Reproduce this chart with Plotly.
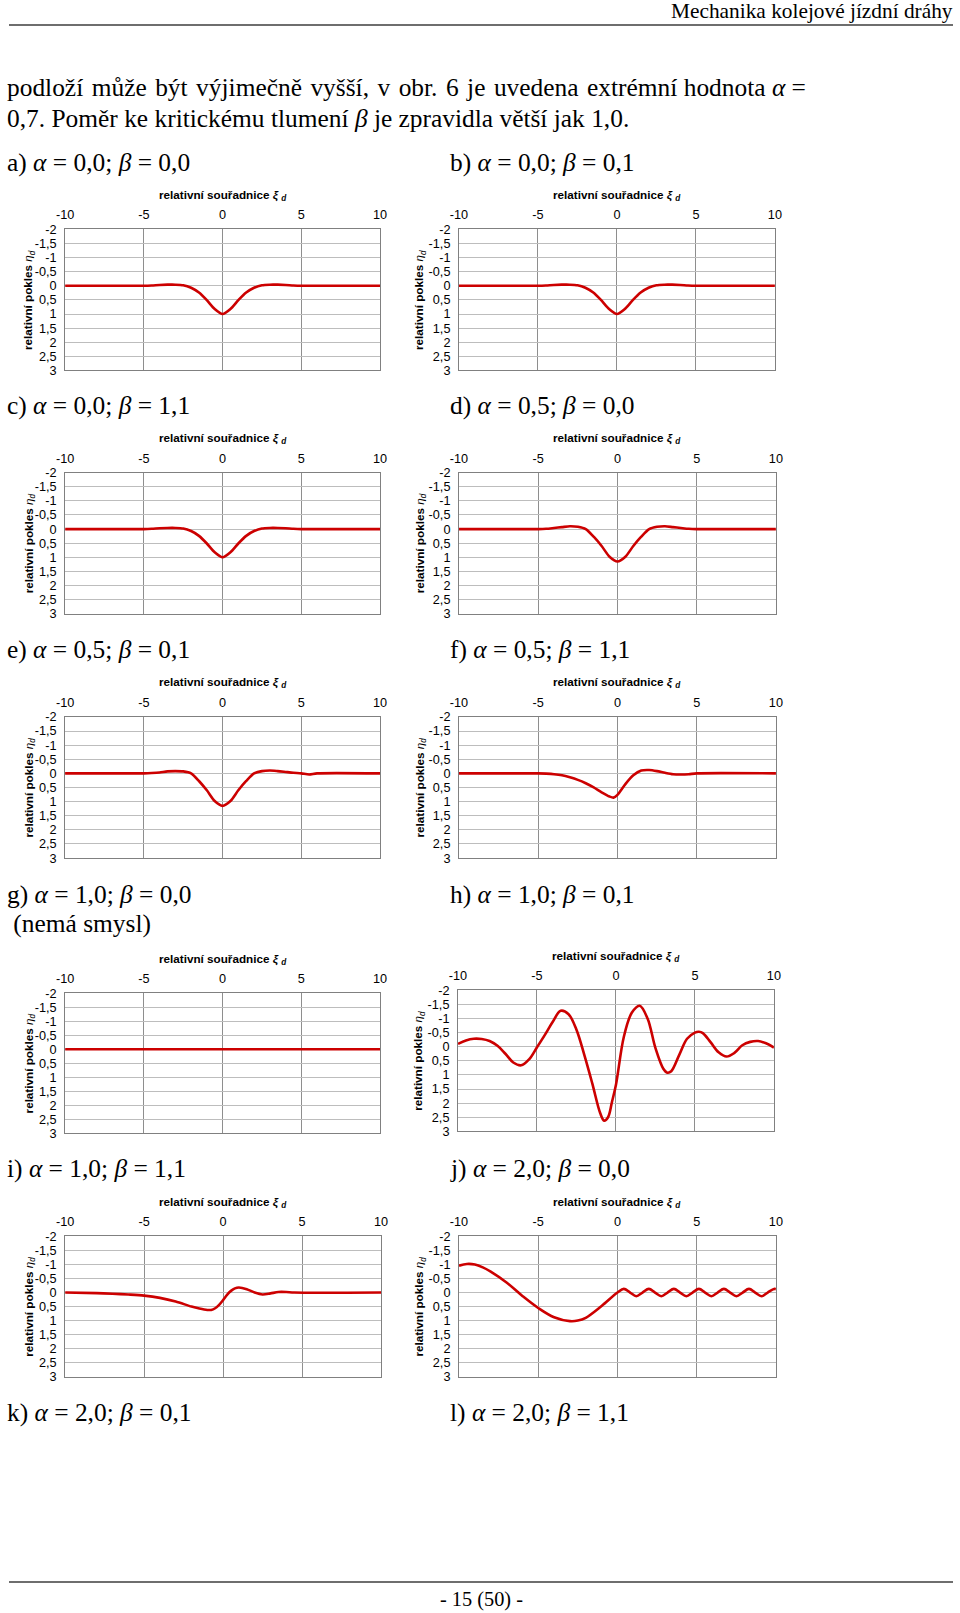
import plotly.graph_objects as go

# The photographed page area is slightly larger than the figure (page margin),
# so reference pixel positions are mapped back through these factors.
W, H = 960, 1613
MARGIN = 8
SX = W / (W + 2 * MARGIN)
SY = H / (H + 2 * MARGIN)
FS = 1 / SX

# ---------------- data ----------------
XTICKS = [-10, -5, 0, 5, 10]
XTICKTEXT = ["-10", "-5", "0", "5", "10"]
YTICKS = [-2, -1.5, -1, -0.5, 0, 0.5, 1, 1.5, 2, 2.5, 3]
YTICKTEXT = ["-2", "-1,5", "-1", "-0,5", "0", "0,5", "1", "1,5", "2", "2,5", "3"]

xi_a = [-10, -5, -4.5, -4, -3.5, -3, -2.5, -2, -1.5, -1, -0.5, 0, 0.5, 1, 1.5, 2, 2.5, 3, 3.5, 4, 4.5, 5, 10]
eta_a = [0, 0, -0.01, -0.03, -0.04, -0.04, -0.02, 0.07, 0.24, 0.51, 0.82, 1.0, 0.82, 0.51, 0.24, 0.07, -0.02, -0.04, -0.04, -0.03, -0.01, 0, 0]

xi_b = [-10, -5, -4.5, -4, -3.5, -3, -2.5, -2, -1.5, -1, -0.5, 0, 0.5, 1, 1.5, 2, 2.5, 3, 3.5, 4, 4.5, 5, 10]
eta_b = [0, 0, -0.01, -0.03, -0.04, -0.04, -0.02, 0.07, 0.24, 0.51, 0.82, 1.0, 0.82, 0.51, 0.24, 0.07, -0.02, -0.04, -0.04, -0.03, -0.01, 0, 0]

xi_c = [-10, -5, -4.5, -4, -3.5, -3, -2.5, -2, -1.5, -1, -0.5, 0, 0.5, 1, 1.5, 2, 2.5, 3, 3.5, 4, 4.5, 5, 10]
eta_c = [0, 0, -0.01, -0.03, -0.04, -0.04, -0.02, 0.07, 0.24, 0.51, 0.82, 1.0, 0.82, 0.51, 0.24, 0.07, -0.02, -0.04, -0.04, -0.03, -0.01, 0, 0]

xi_d = [-10, -5, -4.5, -4, -3.5, -3, -2.5, -2, -1.5, -1, -0.5, 0, 0.5, 1, 1.5, 2, 2.5, 3, 3.5, 4, 4.5, 5, 10]
eta_d = [0, 0, -0.01, -0.04, -0.07, -0.1, -0.08, 0.0, 0.27, 0.6, 0.98, 1.15, 0.98, 0.6, 0.27, 0.0, -0.08, -0.1, -0.07, -0.04, -0.01, 0, 0]

xi_e = [-10, -5, -4.5, -4, -3.5, -3, -2.5, -2, -1.5, -1, -0.5, 0, 0.5, 1, 1.5, 2, 2.5, 3, 3.5, 4, 4.5, 5, 5.5, 6, 10]
eta_e = [0, 0, -0.01, -0.03, -0.07, -0.08, -0.07, 0.0, 0.27, 0.6, 0.98, 1.15, 0.98, 0.6, 0.27, 0.0, -0.08, -0.1, -0.08, -0.05, -0.02, 0, 0.04, 0, 0]

xi_f = [-10, -5, -4.5, -4, -3.5, -3, -2.5, -2, -1.5, -1, -0.5, -0.25, 0, 0.5, 1, 1.5, 2, 2.5, 3, 3.5, 4, 4.5, 5, 10]
eta_f = [0, 0, 0.01, 0.03, 0.07, 0.14, 0.23, 0.35, 0.5, 0.67, 0.82, 0.86, 0.76, 0.38, 0.07, -0.1, -0.12, -0.08, -0.02, 0.03, 0.04, 0.03, 0, 0]

xi_g = [-10, 10]
eta_g = [0, 0]

xi_h = [-10, -9.5, -9, -8.5, -8, -7.5, -7, -6.5, -6, -5.5, -5, -4.5, -4, -3.5, -3, -2.5, -2, -1.5, -1,
        -0.75, -0.5, -0.25, 0, 0.5, 1, 1.5, 2, 2.5, 3, 3.25, 3.5, 4, 4.5, 5, 5.25, 5.5, 6, 6.5, 7, 7.5,
        8, 8.5, 9, 9.5, 10]
eta_h = [-0.1, -0.22, -0.28, -0.27, -0.2, -0.03, 0.25, 0.56, 0.66, 0.45, 0.02, -0.42, -0.88, -1.27, -1.15, -0.6, 0.3, 1.3, 2.35,
         2.62, 2.5, 1.95, 1.35, -0.35, -1.2, -1.45, -1.0, 0.05, 0.78, 0.92, 0.87, 0.3, -0.28, -0.5, -0.53, -0.48, -0.15, 0.2, 0.35, 0.22,
         -0.05, -0.17, -0.2, -0.12, 0.03]

xi_i = [-10, -8, -7, -6, -5, -4, -3, -2, -1.5, -1, -0.75, -0.5, -0.25, 0, 0.25, 0.5, 0.75, 1, 1.5, 2, 2.5, 3, 3.5, 4, 4.5, 10]
eta_i = [0, 0.02, 0.04, 0.07, 0.11, 0.19, 0.32, 0.5, 0.57, 0.62, 0.62, 0.56, 0.44, 0.27, 0.08, -0.06, -0.15, -0.18, -0.12, 0.0, 0.07, 0.03, -0.02, -0.02, 0, 0]

xi_j = [-10, -9.5, -9, -8.5, -8, -7, -6, -5, -4, -3, -2.5, -2, -1, 0,
        0.4, 0.8, 1.19, 1.58, 1.98, 2.37, 2.77, 3.16, 3.56, 3.95, 4.35, 4.74, 5.14, 5.53, 5.93,
        6.32, 6.72, 7.11, 7.51, 7.9, 8.3, 8.69, 9.09, 9.48, 9.88, 10]
eta_j = [-0.96, -1.02, -1.0, -0.9, -0.75, -0.36, 0.12, 0.55, 0.88, 1.02, 1.0, 0.9, 0.48, 0.0,
         -0.13, 0, 0.13, 0, -0.13, 0, 0.13, 0, -0.13, 0, 0.13, 0, -0.13, 0, 0.13,
         0, -0.13, 0, 0.13, 0, -0.13, 0, 0.13, 0, -0.13, -0.12]

SERIES = [(xi_a, eta_a), (xi_b, eta_b), (xi_c, eta_c), (xi_d, eta_d), (xi_e, eta_e),
          (xi_f, eta_f), (xi_g, eta_g), (xi_h, eta_h), (xi_i, eta_i), (xi_j, eta_j)]

# ---------------- layout (reference pixels) ----------------
BOXES = [  # left, right, top, bottom
    (64, 379, 230, 371), (458, 774, 230, 371),
    (64, 379, 473, 614), (458, 775, 473, 614),
    (64, 379, 717, 858), (458, 775, 717, 858),
    (64, 379, 993, 1133), (457, 773, 990, 1131),
    (64, 380, 1236, 1376), (458, 775, 1236, 1376),
]
SMOOTH = [0.7, 0.7, 0.7, 0.7, 0.7, 0.7, 0.7, 1.0, 0.8, 1.0]

SANS = "Liberation Sans, Arial, sans-serif"
SERIF = "Liberation Serif, Times New Roman, serif"
RED = "#cc0000"


def px(x):
    return (x / SX - MARGIN) / W


def py(y):
    return 1 - (y / SY - MARGIN) / H


fig = go.Figure()
annotations = []
shapes = []

for k, ((xs, ys), (l, r, t, b), sm) in enumerate(zip(SERIES, BOXES, SMOOTH), start=1):
    sfx = "" if k == 1 else str(k)
    fig.add_trace(go.Scatter(x=xs, y=ys, mode="lines",
                             line=dict(color=RED, width=2.6, shape="spline", smoothing=sm),
                             xaxis="x" + sfx, yaxis="y" + sfx, showlegend=False, hoverinfo="skip"))
    fig.layout["xaxis" + sfx] = dict(
        domain=[px(l), px(r)], anchor="y" + sfx, side="top", range=[-10, 10],
        tickvals=XTICKS, ticktext=XTICKTEXT, showgrid=True, gridcolor="#8e8e8e", gridwidth=1,
        showline=True, mirror=True, linecolor="#808080", linewidth=1, zeroline=False,
        ticks="", ticklabelstandoff=4,
        tickfont=dict(family=SANS, size=12.5 * FS, color="#000"), fixedrange=True)
    fig.layout["yaxis" + sfx] = dict(
        domain=[py(b), py(t)], anchor="x" + sfx, range=[3, -2],
        tickvals=YTICKS, ticktext=YTICKTEXT, showgrid=True, gridcolor="#bdbdbd", gridwidth=1,
        showline=True, mirror=True, linecolor="#808080", linewidth=1, zeroline=False,
        ticks="", ticklabelstandoff=5,
        tickfont=dict(family=SANS, size=12.5 * FS, color="#000"), fixedrange=True)
    # axis titles
    annotations.append(dict(
        x=px((l + r) / 2), y=py(t - 34), xref="paper", yref="paper", showarrow=False,
        xanchor="center", yanchor="middle",
        text="<b>relativní souřadnice <i>ξ</i> <sub><i>d</i></sub></b>",
        font=dict(family=SANS, size=11.5 * FS, color="#000")))
    annotations.append(dict(
        x=px(l - (36 if l < 200 else 39)), y=py((t + b) / 2), xref="paper", yref="paper",
        showarrow=False, textangle=-90, xanchor="center", yanchor="middle",
        text="<b>relativní pokles </b><i>η<sub>d</sub></i>",
        font=dict(family=SANS, size=11.5 * FS, color="#000")))


def text(x, y, s, size=25, anchor="left"):
    annotations.append(dict(x=px(x), y=py(y), xref="paper", yref="paper", showarrow=False,
                            xanchor=anchor, yanchor="middle", text=s, borderpad=0,
                            font=dict(family=SERIF, size=size * FS, color="#000")))


A = "<i>α</i>"
B = "<i>β</i>"
G = " \u200a"  # justified word gap
L, R = 5, 448
text(953, 12, "Mechanika kolejové jízdní dráhy", size=21, anchor="right")
text(L, 88, G.join(["podloží", "může", "být", "výjimečně", "vyšší,", "v", "obr.", "6", "je",
                    "uvedena", "extrémní"]) + " hodnota " + A + " =")
text(L, 119, "0,7. Poměr ke kritickému tlumení " + B + " je zpravidla větší jak 1,0.")
text(L, 163, "a) " + A + " = 0,0; " + B + " = 0,0")
text(R, 163, "b) " + A + " = 0,0; " + B + " = 0,1")
text(L, 406, "c) " + A + " = 0,0; " + B + " = 1,1")
text(R, 406, "d) " + A + " = 0,5; " + B + " = 0,0")
text(L, 650, "e) " + A + " = 0,5; " + B + " = 0,1")
text(R, 650, "f) " + A + " = 0,5; " + B + " = 1,1")
text(L, 894, "g) " + A + " = 1,0; " + B + " = 0,0")
text(L, 923, " (nemá smysl)")
text(R, 894, "h) " + A + " = 1,0; " + B + " = 0,1")
text(L, 1168, "i) " + A + " = 1,0; " + B + " = 1,1")
text(R, 1168, "j) " + A + " = 2,0; " + B + " = 0,0")
text(L, 1412, "k) " + A + " = 2,0; " + B + " = 0,1")
text(R, 1412, "l) " + A + " = 2,0; " + B + " = 1,1")
text(480, 1599, "- 15 (50) -", size=20, anchor="center")

shapes.append(dict(type="line", xref="paper", yref="paper", x0=0, x1=1, y0=py(26), y1=py(26),
                   line=dict(color="#6e6e6e", width=2)))
shapes.append(dict(type="line", xref="paper", yref="paper", x0=0, x1=1, y0=py(1581), y1=py(1581),
                   line=dict(color="#6e6e6e", width=2)))

fig.update_layout(width=W, height=H, margin=dict(l=0, r=0, t=0, b=0),
                  paper_bgcolor="white", plot_bgcolor="white",
                  annotations=annotations, shapes=shapes, showlegend=False)

fig.write_html("out.html")
